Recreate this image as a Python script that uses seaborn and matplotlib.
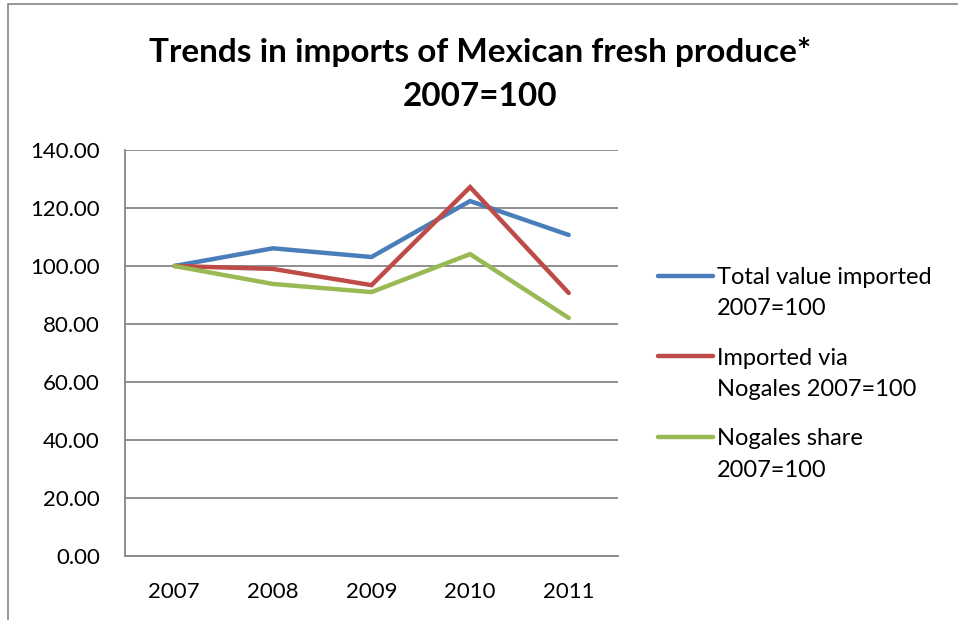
import matplotlib
matplotlib.use("Agg")
import matplotlib.pyplot as plt
import seaborn as sns
import pandas as pd
from matplotlib.ticker import FixedLocator, MultipleLocator

years = ["2007", "2008", "2009", "2010", "2011"]
series_names = ["Total value imported\n2007=100",
                "Imported via\nNogales 2007=100",
                "Nogales share\n2007=100"]
total_value = [100.0, 106.1, 103.1, 122.4, 110.7]
via_nogales = [100.0, 99.0, 93.4, 127.2, 90.7]
nogales_share = [100.0, 93.8, 91.0, 104.1, 82.1]
colors = ["#4A7EBB", "#BE4B48", "#98B954"]

rows = []
for name, vals in zip(series_names, [total_value, via_nogales, nogales_share]):
    for i, (y, v) in enumerate(zip(years, vals)):
        rows.append({"pos": i, "year": y, "value": v, "series": name})
df = pd.DataFrame(rows)

sns.set_style("white")
plt.rcParams["font.family"] = ["Lato", "DejaVu Sans"]
plt.rcParams["text.color"] = "black"
plt.rcParams["xtick.color"] = "black"
plt.rcParams["ytick.color"] = "black"

fig = plt.figure(figsize=(9.58, 6.2), dpi=100)
ax = fig.add_axes([125/958, 1-556/620, (618-125)/958, (556-150)/620])

sns.lineplot(data=df, x="pos", y="value", hue="series", palette=colors,
             linewidth=3.2, ax=ax, legend=True, sort=False)
for ln in ax.lines:
    ln.set_solid_capstyle("round")
    ln.set_solid_joinstyle("miter")

ax.set_xlim(-0.5, 4.5)
ax.set_ylim(0, 140)
ax.yaxis.set_major_locator(MultipleLocator(20))
ax.set_yticklabels([f"{v:.2f}" for v in ax.get_yticks()])
ax.set_xticks(range(len(years)))
ax.set_xticklabels(years)
ax.xaxis.set_minor_locator(FixedLocator([-0.5, 0.5, 1.5, 2.5, 3.5, 4.5]))
ax.tick_params(axis="x", which="major", length=0, pad=19, labelsize=16, labelcolor="black")
ax.tick_params(axis="x", which="minor", length=6, width=1.2, color="#868686", direction="out")
ax.tick_params(axis="y", length=6, width=1.2, color="#868686", direction="out",
               labelsize=16, pad=12, labelcolor="black")
ax.set_xlabel("")
ax.set_ylabel("")
ax.grid(axis="y", color="#868686", linewidth=1.3)
ax.set_axisbelow(True)
for s in ["top", "right"]:
    ax.spines[s].set_visible(False)
for s in ["left", "bottom"]:
    ax.spines[s].set_color("#868686")
    ax.spines[s].set_linewidth(1.3)

handles, labels = ax.get_legend_handles_labels()
ax.get_legend().remove()
leg = fig.legend(handles, labels, loc="upper left", bbox_to_anchor=(637/958, 1-246/620),
                 frameon=False, fontsize=17, handlelength=2.3, handletextpad=0.2,
                 labelspacing=1.2)
for h in leg.get_lines():
    h.set_linewidth(3.2)
for t in leg.get_texts():
    t.set_linespacing(1.6)
    t.set_color("black")
# align each handle with the first line of its label
for col in leg._legend_handle_box.get_children():
    for hp in col.get_children():
        hp.align = "top"

fig.text(480/958, 1-52/620, "Trends in imports of Mexican fresh produce*",
         ha="center", va="center", fontsize=24, fontweight="bold", color="black")
fig.text(480/958, 1-97/620, "2007=100",
         ha="center", va="center", fontsize=24, fontweight="bold", color="black")

# outer border (left and top visible)
border = plt.Rectangle((8/958, -0.05), 1.0, 1-4/620 + 0.05, transform=fig.transFigure,
                       fill=False, edgecolor="#868686", linewidth=1.2)
fig.patches.append(border)

fig.savefig("out.png", dpi=100)
